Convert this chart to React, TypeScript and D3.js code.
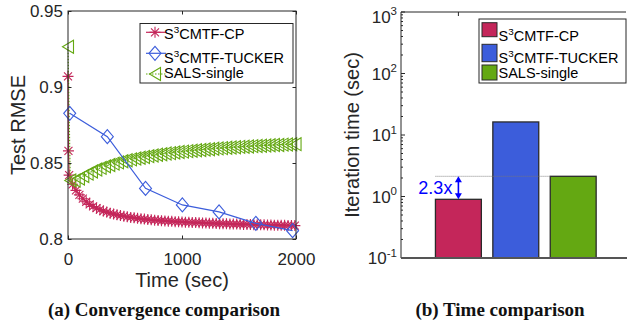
import React, { useRef, useEffect } from "react";
import * as d3 from "d3";

// (a) convergence: test RMSE against elapsed time (sec)
const cpTime = [0, 4, 10, 40, 70, 100, 130, 160, 190, 220, 250, 280, 310, 340, 370, 400, 430, 460, 490,
  520, 550, 580, 610, 640, 670, 700, 730, 760, 790, 820, 850, 880, 910, 940, 970, 1000, 1030, 1060, 1090,
  1120, 1150, 1180, 1210, 1240, 1270, 1300, 1330, 1360, 1390, 1420, 1450, 1480, 1510, 1540, 1570, 1600,
  1630, 1660, 1690, 1720, 1750, 1780, 1810, 1840, 1870, 1900, 1930, 1960, 1990];
const cpRmse = [0.907, 0.858, 0.842, 0.836, 0.832, 0.829, 0.8265, 0.8245, 0.8228, 0.8214, 0.8203, 0.8193,
  0.8184, 0.8177, 0.817, 0.8164, 0.8159, 0.8154, 0.815, 0.8146, 0.8142, 0.8139, 0.8136, 0.8133, 0.8131,
  0.8128, 0.8126, 0.8124, 0.8122, 0.812, 0.8119, 0.8117, 0.8116, 0.8114, 0.8113, 0.8112, 0.8111, 0.811,
  0.8109, 0.8108, 0.8107, 0.8106, 0.8105, 0.8104, 0.8103, 0.8102, 0.8101, 0.8101, 0.81, 0.8099, 0.8098,
  0.8098, 0.8097, 0.8096, 0.8096, 0.8095, 0.8094, 0.8094, 0.8093, 0.8093, 0.8092, 0.8092, 0.8091, 0.8091,
  0.809, 0.809, 0.8089, 0.8089, 0.8088];

const tuckerTime = [15, 345, 680, 1003, 1325, 1648, 1970];
const tuckerRmse = [0.8827, 0.8673, 0.8333, 0.8224, 0.8178, 0.8103, 0.8055];

const salsTime = [0, 20, 58, 96, 134, 172, 210, 248, 286, 324, 362, 400, 438, 476, 514, 552, 590, 628, 666,
  704, 742, 780, 818, 856, 894, 932, 970, 1008, 1046, 1084, 1122, 1160, 1198, 1236, 1274, 1312, 1350, 1388,
  1426, 1464, 1502, 1540, 1578, 1616, 1654, 1692, 1730, 1768, 1806, 1844, 1882, 1920, 1958, 1996];
const salsRmse = [0.9265, 0.8385, 0.8385, 0.8398, 0.8415, 0.843, 0.8444, 0.8457, 0.8468, 0.8478, 0.8487,
  0.8496, 0.8504, 0.8511, 0.8518, 0.8524, 0.853, 0.8535, 0.854, 0.8545, 0.8549, 0.8554, 0.8558, 0.8562,
  0.8565, 0.8569, 0.8572, 0.8575, 0.8578, 0.8581, 0.8584, 0.8586, 0.8589, 0.8591, 0.8594, 0.8596, 0.8598,
  0.86, 0.8602, 0.8604, 0.8606, 0.8607, 0.8609, 0.8611, 0.8612, 0.8614, 0.8615, 0.8617, 0.8618, 0.8619,
  0.8621, 0.8622, 0.8623, 0.8624];

const rmseTicks = [0.8, 0.85, 0.9, 0.95];
const timeTicks = [0, 1000, 2000];

// (b) seconds per iteration
const methodPos = [1, 2, 3];
const iterTime = [0.9, 16.3, 2.13];
const logExps = [-1, 0, 1, 2, 3];
const speedup = "2.3x";

// legend labels: base, superscript, rest
const legendLabels = [["S", "3", "CMTF-CP"], ["S", "3", "CMTF-TUCKER"], ["SALS-single", "", ""]];

const RED = "#C4265A";
const BLUE = "#3C5DDB";
const GREEN = "#64A812";
const colors = [RED, BLUE, GREEN];

const STAR = "M-5.5,0H5.5M0,-5.5V5.5M-4,-4L4,4M-4,4L4,-4";
const DIAMOND = "M0,-7L6,0L0,7L-6,0Z";
const TRI = "M-5.5,0L5.5,-6.5L5.5,6.5Z";

const font = "'Liberation Sans', Arial, sans-serif";
const ink = "#262626";

function styleAxis(g) {
  g.select(".domain").remove();
  g.selectAll(".tick line").attr("stroke", ink);
  g.selectAll(".tick text").attr("fill", ink).style("font-family", font).style("font-size", "17px");
}

function addLabel(g, x, y, parts, size) {
  const t = g.append("text").attr("x", x).attr("y", y)
    .style("font-family", font).style("font-size", size + "px").attr("fill", "#000");
  t.append("tspan").text(parts[0]);
  if (parts[1]) {
    t.append("tspan").attr("dy", -6).style("font-size", (size * 0.68) + "px").text(parts[1]);
    t.append("tspan").attr("dy", 6).text(parts[2]);
  }
}

function App() {
  const svgRef = useRef(null);

  useEffect(() => {
    const svg = d3.select(svgRef.current);
    svg.selectAll("*").remove();

    // ---------- (a) convergence ----------
    const xA = d3.scaleLinear().domain([0, 2000]).range([68, 296]);
    const yA = d3.scaleLinear().domain([0.8, 0.95]).range([239, 11]);
    const gA = svg.append("g");
    const line = d3.line().x(d => xA(d[0])).y(d => yA(d[1]));

    const series = [
      { pts: d3.zip(cpTime, cpRmse), color: RED, dash: null, marker: STAR },
      { pts: d3.zip(salsTime, salsRmse), color: GREEN, dash: "1.5,1.5", marker: TRI },
      { pts: d3.zip(tuckerTime, tuckerRmse), color: BLUE, dash: null, marker: DIAMOND },
    ];
    series.forEach((s, i) => {
      gA.append("path").attr("d", line(s.pts)).attr("fill", "none")
        .attr("stroke", s.color).attr("stroke-width", 1.2).attr("stroke-dasharray", s.dash);
      gA.selectAll(".m" + i).data(s.pts).join("path").attr("class", "m" + i)
        .attr("d", s.marker)
        .attr("transform", d => `translate(${xA(d[0])},${yA(d[1])})`)
        .attr("fill", "none").attr("stroke", s.color).attr("stroke-width", 1.1);
    });

    gA.append("g").attr("transform", "translate(68,0)")
      .call(d3.axisLeft(yA).tickValues(rmseTicks).tickFormat(d => String(d)).tickSizeInner(-3.5).tickSizeOuter(0).tickPadding(5))
      .call(styleAxis);
    gA.append("g").attr("transform", "translate(296,0)")
      .call(d3.axisRight(yA).tickValues(rmseTicks).tickFormat(() => "").tickSizeInner(-3.5).tickSizeOuter(0))
      .call(styleAxis);
    gA.append("g").attr("transform", "translate(0,239)")
      .call(d3.axisBottom(xA).tickValues(timeTicks).tickFormat(d => String(d)).tickSizeInner(-3.5).tickSizeOuter(0).tickPadding(14))
      .call(styleAxis);
    gA.append("g").attr("transform", "translate(0,11)")
      .call(d3.axisTop(xA).tickValues(timeTicks).tickFormat(() => "").tickSizeInner(-3.5).tickSizeOuter(0))
      .call(styleAxis);
    gA.append("rect").attr("x", 68).attr("y", 11).attr("width", 228).attr("height", 228)
      .attr("fill", "none").attr("stroke", ink).attr("stroke-width", 1);

    gA.append("text").attr("transform", "translate(25,125) rotate(-90)").attr("text-anchor", "middle")
      .style("font-family", font).style("font-size", "20px").attr("fill", ink).text("Test RMSE");
    gA.append("text").attr("x", 182).attr("y", 287).attr("text-anchor", "middle")
      .style("font-family", font).style("font-size", "20px").attr("fill", ink).text("Time (sec)");

    // legend (a)
    const legA = gA.append("g");
    legA.append("rect").attr("x", 140).attr("y", 23.5).attr("width", 153).attr("height", 59.5)
      .attr("fill", "#fff").attr("stroke", ink).attr("stroke-width", 1);
    const markerA = [STAR, DIAMOND, TRI];
    const rowA = [32.3, 53.3, 74];
    const baseA = [39, 63, 78];
    legendLabels.forEach((lab, i) => {
      legA.append("line").attr("x1", 146).attr("x2", 166).attr("y1", rowA[i]).attr("y2", rowA[i])
        .attr("stroke", colors[i]).attr("stroke-width", 1.2).attr("stroke-dasharray", i === 2 ? "1.5,1.5" : null);
      legA.append("path").attr("d", markerA[i]).attr("transform", `translate(155,${rowA[i]})`)
        .attr("fill", "none").attr("stroke", colors[i]).attr("stroke-width", 1.1);
      addLabel(legA, 164, baseA[i], lab, 14.5);
    });

    // ---------- (b) time comparison ----------
    const xB = d3.scaleLinear().domain([0, 3.92]).range([401, 626]);
    const yB = d3.scaleLog().domain([0.1, 1000]).range([258, 12]);
    const gB = svg.append("g");
    const barW = xB(0.8) - xB(0);

    gB.selectAll(".bar").data(iterTime).join("rect").attr("class", "bar")
      .attr("x", (d, i) => xB(methodPos[i]) - barW / 2)
      .attr("y", d => yB(d))
      .attr("width", barW)
      .attr("height", d => yB(0.1) - yB(d))
      .attr("fill", (d, i) => colors[i])
      .attr("stroke", "#2a2a2a").attr("stroke-width", 1.3);

    // reference line and speed-up arrow
    const yRef = yB(iterTime[2]);
    gB.append("line").attr("x1", xB(methodPos[0]) - barW / 2).attr("x2", xB(methodPos[2]) - barW / 2)
      .attr("y1", yRef).attr("y2", yRef).attr("stroke", "#777").attr("stroke-width", 0.9).attr("stroke-dasharray", "1,1");
    const ax = xB(methodPos[0]);
    const yLow = yB(iterTime[0]);
    gB.append("line").attr("x1", ax).attr("x2", ax).attr("y1", yRef + 4).attr("y2", yLow - 4)
      .attr("stroke", "#0000FF").attr("stroke-width", 1.6);
    gB.append("path").attr("d", `M${ax - 3.5},${yRef + 6}L${ax},${yRef}L${ax + 3.5},${yRef + 6}Z`).attr("fill", "#0000FF");
    gB.append("path").attr("d", `M${ax - 3.5},${yLow - 6}L${ax},${yLow}L${ax + 3.5},${yLow - 6}Z`).attr("fill", "#0000FF");
    gB.append("text").attr("x", ax - 6).attr("y", (yRef + yLow) / 2 + 6.5).attr("text-anchor", "end")
      .style("font-family", font).style("font-size", "18px").attr("fill", "#0000FF").text(speedup);

    // axes (b)
    const minor = [];
    logExps.slice(0, -1).forEach(e => d3.range(2, 10).forEach(m => minor.push(m * Math.pow(10, e))));
    gB.selectAll(".minor").data(minor).join("line").attr("class", "minor")
      .attr("x1", 401).attr("x2", 403).attr("y1", d => yB(d)).attr("y2", d => yB(d)).attr("stroke", ink);
    gB.selectAll(".major").data(logExps).join("line").attr("class", "major")
      .attr("x1", 401).attr("x2", 405).attr("y1", d => yB(Math.pow(10, d))).attr("y2", d => yB(Math.pow(10, d))).attr("stroke", ink);
    logExps.forEach(e => {
      const ty = Math.max(yB(Math.pow(10, e)), 17);
      const t = gB.append("text").attr("x", 397).attr("y", ty + 6.3).attr("text-anchor", "end")
        .style("font-family", font).style("font-size", "17px").attr("fill", ink);
      t.append("tspan").text("10");
      t.append("tspan").attr("dy", -7.8).style("font-size", "11.5px").text(String(e));
    });
    gB.append("line").attr("x1", xB(1)).attr("x2", xB(1)).attr("y1", 12).attr("y2", 16).attr("stroke", ink);
    gB.append("path").attr("d", "M401,258V12H626").attr("fill", "none").attr("stroke", ink).attr("stroke-width", 1);
    gB.append("line").attr("x1", 401).attr("x2", 627).attr("y1", 258).attr("y2", 258).attr("stroke", "#555").attr("stroke-width", 2);

    gB.append("text").attr("transform", "translate(359,135) rotate(-90)").attr("text-anchor", "middle")
      .style("font-family", font).style("font-size", "20px").attr("fill", ink).text("Iteration time (sec)");

    // legend (b)
    const legB = gB.append("g");
    legB.append("rect").attr("x", 479).attr("y", 19).attr("width", 147).attr("height", 64)
      .attr("fill", "#fff").attr("stroke", ink).attr("stroke-width", 1);
    const swY = [22.7, 44.3, 65];
    const swH = [14, 17.4, 15];
    const baseB = [40.7, 63.3, 78.3];
    legendLabels.forEach((lab, i) => {
      legB.append("rect").attr("x", 482).attr("y", swY[i]).attr("width", 15).attr("height", swH[i])
        .attr("fill", colors[i]).attr("stroke", "#2a2a2a").attr("stroke-width", 1);
      addLabel(legB, 498.5, baseB[i], lab, 14.5);
    });

    // captions
    const cap = svg.append("g").style("font-family", "'Liberation Serif', 'Times New Roman', serif")
      .style("font-weight", "bold").style("font-size", "19px").attr("fill", "#111");
    cap.append("text").attr("x", 164).attr("y", 316).attr("text-anchor", "middle").text("(a) Convergence comparison");
    cap.append("text").attr("x", 500).attr("y", 316).attr("text-anchor", "middle").text("(b) Time comparison");
  }, []);

  return (
    <div style={{ position: "absolute", left: 0, top: 0 }}>
      <svg ref={svgRef} width={627} height={321} style={{ display: "block", background: "#fff" }}></svg>
    </div>
  );
}

export default App;
